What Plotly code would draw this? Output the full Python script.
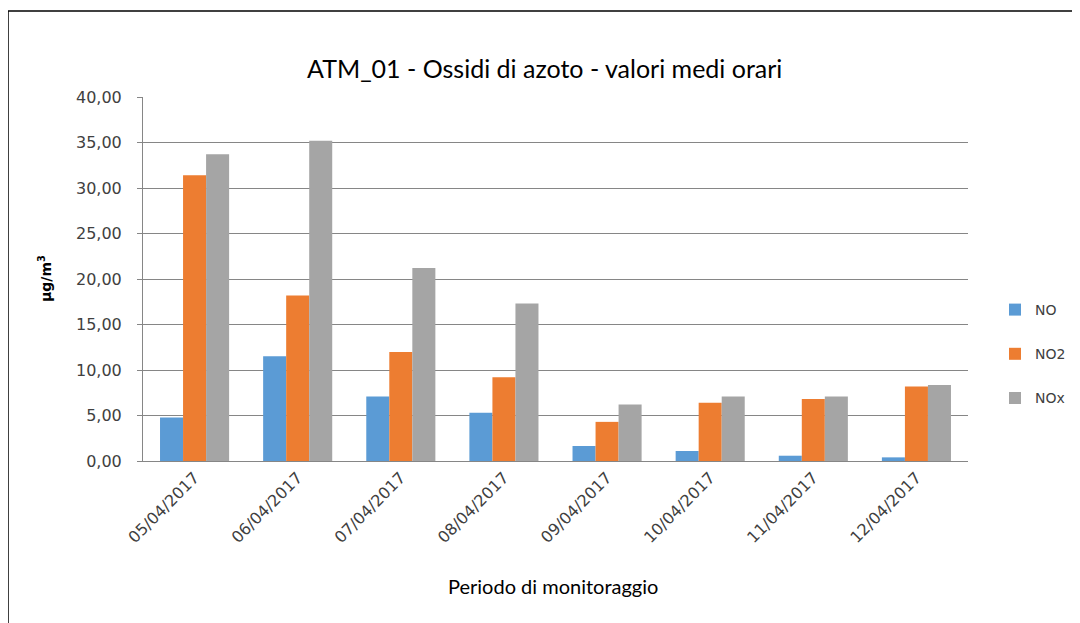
import plotly.graph_objects as go

categories = ["05/04/2017", "06/04/2017", "07/04/2017", "08/04/2017",
              "09/04/2017", "10/04/2017", "11/04/2017", "12/04/2017"]
no_vals = [4.77, 11.5, 7.08, 5.3, 1.65, 1.1, 0.58, 0.4]
no2_vals = [31.4, 18.2, 11.97, 9.2, 4.3, 6.4, 6.8, 8.2]
nox_vals = [33.7, 35.2, 21.2, 17.3, 6.2, 7.1, 7.1, 8.35]
series_names = ["NO", "NO2", "NOx"]
colors = ["#5B9BD5", "#ED7D31", "#A5A5A5"]
y_ticks = [0, 5, 10, 15, 20, 25, 30, 35, 40]

fig = go.Figure()
for i, (name, vals) in enumerate(zip(series_names, [no_vals, no2_vals, nox_vals])):
    fig.add_trace(go.Bar(x=categories, y=vals, name=name, marker_color=colors[i],
                         marker_line_width=0, legendgroup=name))

OFF = 8  # page body margin
W, H = 1080 - OFF, 623 - OFF
L, T = 143 - OFF, 97 - OFF
R = W - (968 - OFF)
B = H - (461 - OFF)
pw, ph = W - L - R, H - T - B

def px_x(x):
    return (x - OFF - L) / pw

def px_y(y):
    return (T + ph - (y - OFF)) / ph

fig.update_layout(
    width=W, height=H,
    margin=dict(l=L, r=R, t=T, b=B, autoexpand=False),
    paper_bgcolor="white", plot_bgcolor="white",
    separators=",.",
    barmode="group", bargap=0.33, bargroupgap=0,
    font=dict(family="DejaVu Sans", color="#404040", size=14),
    showlegend=True,
    legend=dict(x=px_x(995), y=px_y(294), xanchor="left", yanchor="top",
                font=dict(family="DejaVu Sans", size=14, color="#404040"),
                tracegroupgap=23, itemwidth=30, bgcolor="rgba(0,0,0,0)"),
    xaxis=dict(type="category", tickangle=-45, showgrid=False,
               showline=True, linecolor="#868686", linewidth=1,
               tickfont=dict(family="DejaVu Sans", size=16, color="#404040")),
    yaxis=dict(range=[0, 40], tickvals=y_ticks, tickformat=".2f",
               showgrid=True, gridcolor="#868686", gridwidth=1,
               showline=True, linecolor="#868686", linewidth=1,
               ticks="outside", ticklen=5, tickcolor="#868686",
               ticklabelstandoff=12, zeroline=False,
               tickfont=dict(family="DejaVu Sans", size=16, color="#404040")),
    annotations=[
        dict(text="ATM_01 - Ossidi di azoto - valori medi orari", xref="paper", yref="paper",
             x=px_x(544), y=px_y(68), xanchor="center", yanchor="middle", showarrow=False,
             font=dict(family="Lato", size=25, color="#000000")),
        dict(text="<b>µg/m<sup>3</sup></b>", xref="paper", yref="paper",
             x=px_x(45), y=px_y(279), xanchor="center", yanchor="middle", showarrow=False,
             textangle=-90, font=dict(family="DejaVu Sans", size=14, color="#000000")),
        dict(text="Periodo di monitoraggio", xref="paper", yref="paper",
             x=px_x(553), y=px_y(586), xanchor="center", yanchor="middle", showarrow=False,
             font=dict(family="Lato", size=20, color="#000000")),
    ],
    shapes=[
        dict(type="line", xref="paper", yref="paper",
             x0=px_x(8), x1=px_x(1200), y0=px_y(11), y1=px_y(11),
             line=dict(color="#000000", width=1.5), layer="below"),
        dict(type="line", xref="paper", yref="paper",
             x0=px_x(8), x1=px_x(8), y0=px_y(11), y1=px_y(700),
             line=dict(color="#000000", width=1.5), layer="below"),
    ],
)

fig.write_html("out.html")
